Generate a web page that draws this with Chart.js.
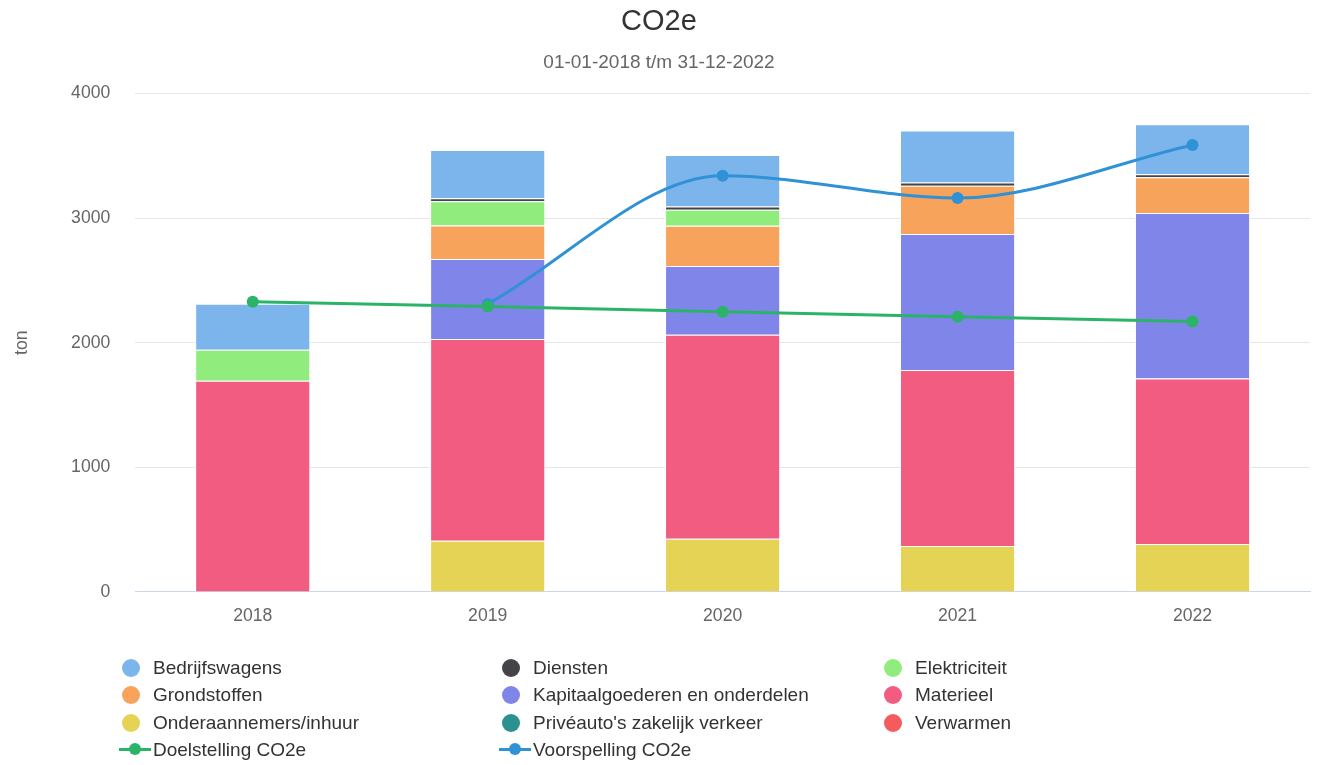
<!DOCTYPE html>
<html>
<head>
<meta charset="utf-8">
<script src="https://cdn.jsdelivr.net/npm/chart.js@4/dist/chart.umd.min.js"></script>
<style>
  html, body { margin: 0; padding: 0; background: #fff; }
  #wrap { position: relative; width: 1324px; height: 765px; font-family: "Liberation Sans", Arial, sans-serif; }
  #legend { position: absolute; left: 0; top: 655px; width: 1324px; }
  .item { position: absolute; height: 26px; line-height: 26px; font-size: 19px; color: #333; white-space: nowrap; }
  .dot { position: absolute; top: 4px; width: 18px; height: 18px; border-radius: 50%; }
  .ln { position: absolute; top: 11px; width: 32px; height: 3px; }
  .ln i { position: absolute; left: 10px; top: -5px; width: 12px; height: 12px; border-radius: 50%; }
</style>
</head>
<body>
<div id="wrap">
  <canvas id="co2Chart" width="1324" height="765"></canvas>
  <div id="legend"></div>
</div>
<script>
const years = ["2018", "2019", "2020", "2021", "2022"];

// stacked columns, from the bottom up (ton CO2e)
const privéauto = [0, 0, 0, 0, 0];
const verwarmen = [0, 0, 0, 0, 0];
const onderaannemers = [0, 410, 426, 369, 385];
const materieel = [1695, 1620, 1638, 1412, 1328];
const kapitaalgoederen = [0, 642, 552, 1092, 1329];
const grondstoffen = [0, 270, 324, 388, 286];
const elektriciteit = [249, 193, 128, 0, 0];
const diensten = [0, 25, 25, 25, 25];
const bedrijfswagens = [369, 388, 414, 417, 400];

// lines
const doelstelling = [2329, 2290, 2249, 2209, 2171];
const voorspelling = [null, 2311, 3341, 3162, 3588];

const yTicks = [0, 1000, 2000, 3000, 4000];

const bar = (label, data, color) => ({
  type: "bar", label, data, backgroundColor: color, borderColor: "#fff",
  borderWidth: 1, stack: "co2", categoryPercentage: 1, barPercentage: 0.49
});
const line = (label, data, color, smooth) => ({
  type: "line", label, data, borderColor: color, backgroundColor: color,
  borderWidth: 3, pointRadius: 6, pointHoverRadius: 6, pointBorderWidth: 0,
  cubicInterpolationMode: smooth ? "monotone" : "default", tension: 0,
  stack: label
});

const datasets = [
  line("Doelstelling CO2e", doelstelling, "#2bb467", false),
  line("Voorspelling CO2e", voorspelling, "#3092d6", true),
  bar("Privéauto's zakelijk verkeer", privéauto, "#2b908f"),
  bar("Verwarmen", verwarmen, "#f45b5b"),
  bar("Onderaannemers/inhuur", onderaannemers, "#e4d354"),
  bar("Materieel", materieel, "#f15c80"),
  bar("Kapitaalgoederen en onderdelen", kapitaalgoederen, "#8085e9"),
  bar("Grondstoffen", grondstoffen, "#f7a35c"),
  bar("Elektriciteit", elektriciteit, "#90ed7d"),
  bar("Diensten", diensten, "#434348"),
  bar("Bedrijfswagens", bedrijfswagens, "#7cb5ec")
];

const font = "'Liberation Sans', Arial, sans-serif";

new Chart(document.getElementById("co2Chart"), {
  data: { labels: years, datasets },
  options: {
    responsive: false,
    animation: false,
    layout: { padding: { left: 8, right: 14, bottom: 124, top: 0 } },
    plugins: {
      legend: { display: false },
      tooltip: { enabled: false },
      title: {
        display: true, text: "CO2e", color: "#333",
        font: { family: font, size: 29, weight: "normal" },
        padding: { top: 5, bottom: 12 }
      },
      subtitle: {
        display: true, text: "01-01-2018 t/m 31-12-2022", color: "#666",
        font: { family: font, size: 19, weight: "normal" },
        padding: { top: 0, bottom: 19 }
      }
    },
    scales: {
      x: {
        stacked: true,
        grid: { display: false, drawTicks: false },
        border: { color: "#ccd6eb", width: 1 },
        ticks: { color: "#666", font: { family: font, size: 17.6 }, padding: 14 }
      },
      y: {
        stacked: true,
        min: 0, max: 4000,
        afterBuildTicks: axis => { axis.ticks = yTicks.map(v => ({ value: v })); },
        grid: { color: "#e6e6e6", drawTicks: false },
        border: { display: false },
        ticks: { color: "#666", font: { family: font, size: 17.6 }, padding: 25, callback: v => String(v) },
        title: { display: true, text: "ton", color: "#666", font: { family: font, size: 17.6 }, padding: { bottom: 13 } }
      }
    }
  }
});

// legend in three columns, same order as the reference
const legendOrder = [
  "Bedrijfswagens", "Diensten", "Elektriciteit",
  "Grondstoffen", "Kapitaalgoederen en onderdelen", "Materieel",
  "Onderaannemers/inhuur", "Privéauto's zakelijk verkeer", "Verwarmen",
  "Doelstelling CO2e", "Voorspelling CO2e"
];
const colX = [122, 502, 884];
const legend = document.getElementById("legend");
legendOrder.forEach((name, i) => {
  const ds = datasets.find(d => d.label === name);
  const el = document.createElement("div");
  el.className = "item";
  el.style.left = colX[i % 3] + "px";
  el.style.top = Math.floor(i / 3) * 27.3 + "px";
  const text = document.createElement("span");
  text.textContent = name;
  text.style.marginLeft = "31px";
  if (ds.type === "line") {
    const l = document.createElement("span");
    l.className = "ln";
    l.style.left = "-3px";
    l.style.background = ds.borderColor;
    const p = document.createElement("i");
    p.style.background = ds.borderColor;
    l.appendChild(p);
    el.appendChild(l);
  } else {
    const d = document.createElement("span");
    d.className = "dot";
    d.style.left = "0px";
    d.style.background = ds.backgroundColor;
    el.appendChild(d);
  }
  el.appendChild(text);
  legend.appendChild(el);
});
</script>
</body>
</html>
